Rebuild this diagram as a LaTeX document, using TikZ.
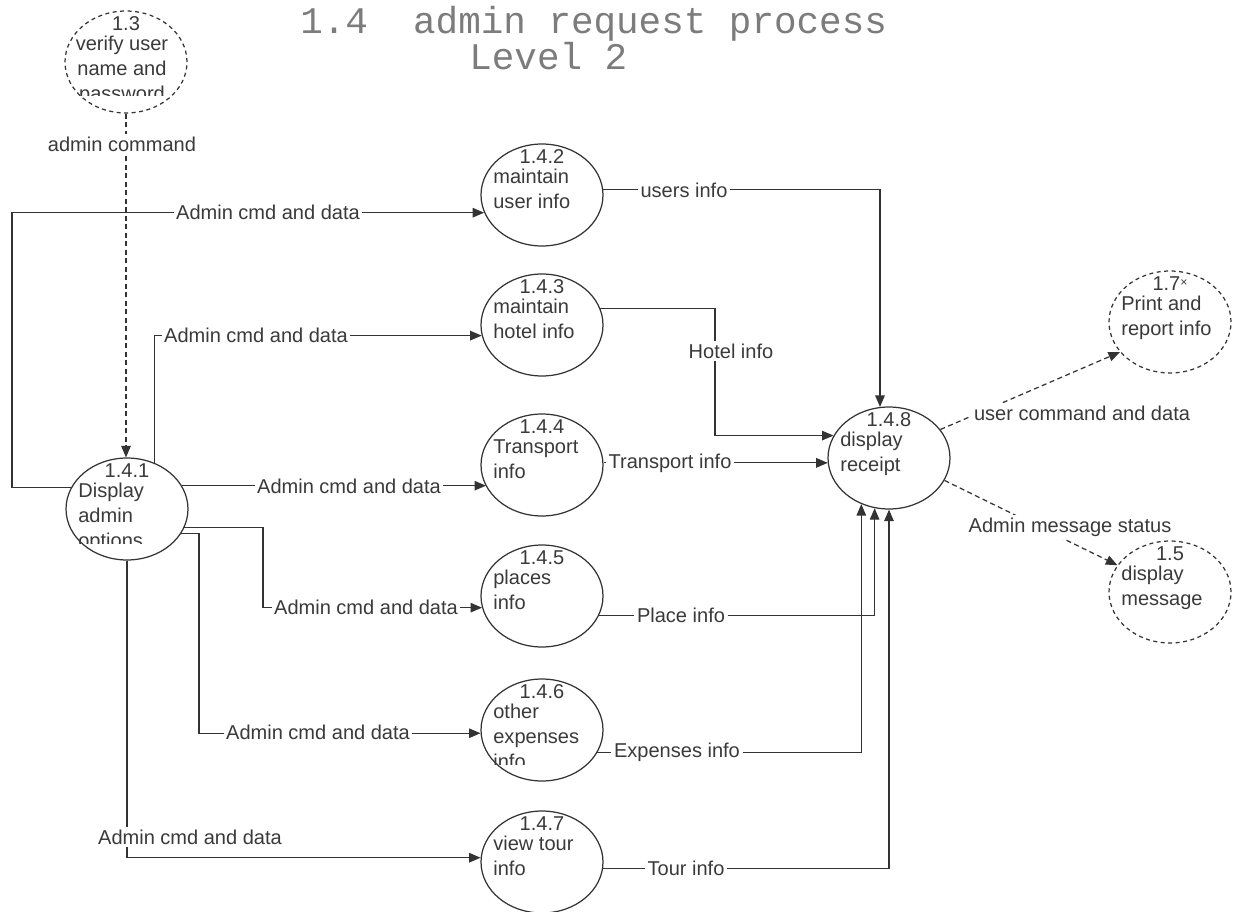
\documentclass[tikz,border=0pt]{standalone}
\usepackage{fontspec}
\setmainfont{Liberation Sans}
\newfontfamily\titlefont{Liberation Mono}
\usetikzlibrary{shapes.geometric,arrows.meta}

\definecolor{ink}{HTML}{333333}
\definecolor{txt}{HTML}{3A3A3A}
\definecolor{titlegray}{HTML}{7C7C7C}

\newcommand\dfdfont{\fontsize{11.4}{14.2}\selectfont}

\tikzset{
  proc/.style={ellipse, draw=ink, line width=0.7pt, minimum width=2.44cm,
    minimum height=2.04cm, inner sep=0pt},
  extproc/.style={proc, dash pattern=on 0.08cm off 0.07cm},
  flow/.style={draw=ink, line width=0.7pt, -{Triangle[length=0.23cm,width=0.19cm]}},
  dflow/.style={flow, dash pattern=on 0.1cm off 0.07cm},
  lbl/.style={fill=white, inner sep=1.5pt, text=txt, font=\dfdfont},
  numlbl/.style={inner sep=0pt, text=txt, font=\dfdfont},
  proclbl/.style={anchor=north west, align=left, inner sep=0pt, text=txt, font=\dfdfont},
  proclblc/.style={anchor=north, align=center, inner sep=0pt, text=txt, font=\dfdfont},
  heading/.style={anchor=base west, inner sep=0pt, text=titlegray,
    font=\titlefont\fontsize{21.4}{25}\selectfont},
}

% process bubble: [text style]{shape style}{name}{x}{y}{number}{text}
\newcommand\dfdproc[7][proclbl]{%
  \node[#2] (#3) at (#4,#5) {};
  \begin{scope}
    \clip (#4-61,#5-51) rectangle (#4+61,#5+34);
    \node[numlbl] (#3-num) at (#4,#5-38) {#6};
    \node[#1] (#3-txt) at (#4-49,#5-26) {#7};
  \end{scope}%
}

\begin{document}
\begin{tikzpicture}[x=0.02cm, y=-0.02cm]
  \useasboundingbox (0,0) rectangle (1244,912);
  \clip (0,0) rectangle (1244,912);
  \fill[white] (0,0) rectangle (1244,912);

  % heading
  \node[heading] (title) at (300,34) {1.4~~admin request process};
  \node[heading] (level) at (469,70) {Level 2};

  % external processes
  \node[extproc] (p13) at (126,62) {};
  \begin{scope}
    \clip (65,11) rectangle (187,96);
    \node[numlbl] (p13-num) at (126,24) {1.3};
    \node[proclblc] (p13-txt) at (122,36) {verify user\\name and\\password};
  \end{scope}
  \dfdproc{extproc}{p17}{1170}{322}{1.7\raisebox{0.45ex}{\scriptsize ×}}{Print and\\report info}
  \dfdproc{extproc}{p15}{1170}{592}{1.5}{display\\message}

  % level-2 processes
  \dfdproc{proc}{p141}{127}{509}{1.4.1}{Display\\admin\\options}
  \dfdproc{proc}{p142}{542}{195}{1.4.2}{maintain\\user info}
  \dfdproc{proc}{p143}{542}{325}{1.4.3}{maintain\\hotel info}
  \dfdproc{proc}{p144}{542}{465}{1.4.4}{Transport\\info}
  \dfdproc{proc}{p145}{542}{596}{1.4.5}{places\\info}
  \dfdproc{proc}{p146}{542}{730}{1.4.6}{other\\expenses\\info}
  \dfdproc{proc}{p147}{542}{862}{1.4.7}{view tour\\info}
  \dfdproc{proc}{p148}{889}{458}{1.4.8}{display\\receipt}

  % bend points of the routed flows
  \coordinate (k1) at (12,300);
  \coordinate (k4) at (263,560);
  \coordinate (k5) at (199,650);
  \coordinate (k9) at (715,380);

  % flows out of 1.4.1
  \draw[dflow] (p13.south) -- (p13.south |- p141.north);
  \draw[flow] (p141.159) -- (p141.159 -| k1) |- (p142.197);
  \draw[flow] (p141.59) |- (p143.190);
  \draw[flow] (p141.23) -- (p141.23 -| p144.201);
  \draw[flow] (p141.342) -| (k4) |- (p145.191);
  \draw[flow] (p141.336) -| (k5) |- (p146.183);
  \draw[flow] (p141.south) |- (p147.176);

  % flows into 1.4.8
  \draw[flow] (p142.5) -| (p148.100);
  \draw[flow] (p143.16) -| (k9) |- (p148.158);
  \draw[flow] (p144.2) -- (p144.2 -| p148.185);
  \draw[flow] (p145.341) -| (p148.254);
  \draw[flow] (p146.338) -| (p148.239);
  \draw[flow] (p147.354) -| (p148.south);

  % flows out of 1.4.8
  \draw[dflow] (p148.29) -- (p17.211);
  \draw[dflow] (p148.338) -- (p15.153);

  % flow labels
  \node[lbl] (l-cmd) at (122,144) {admin command};
  \node[lbl] (l-r1) at (268,212) {Admin cmd and data};
  \node[lbl] (l-r2) at (256,335) {Admin cmd and data};
  \node[lbl] (l-r3) at (349,486) {Admin cmd and data};
  \node[lbl] (l-r4) at (366,607) {Admin cmd and data};
  \node[lbl] (l-r5) at (318,732) {Admin cmd and data};
  \node[lbl] (l-r6) at (190,837) {Admin cmd and data};
  \node[lbl] (l-user) at (684,190) {users info};
  \node[lbl] (l-hotel) at (731,351) {Hotel info};
  \node[lbl] (l-trans) at (670,463) {Transport info};
  \node[lbl] (l-place) at (681,615) {Place info};
  \node[lbl] (l-exp) at (677,752) {Expenses info};
  \node[lbl] (l-tour) at (686,868) {Tour info};
  \node[lbl] (l-ucmd) at (1082,413) {user command and data};
  \node[lbl] (l-msg) at (1070,527) {Admin message status};
\end{tikzpicture}
\end{document}
